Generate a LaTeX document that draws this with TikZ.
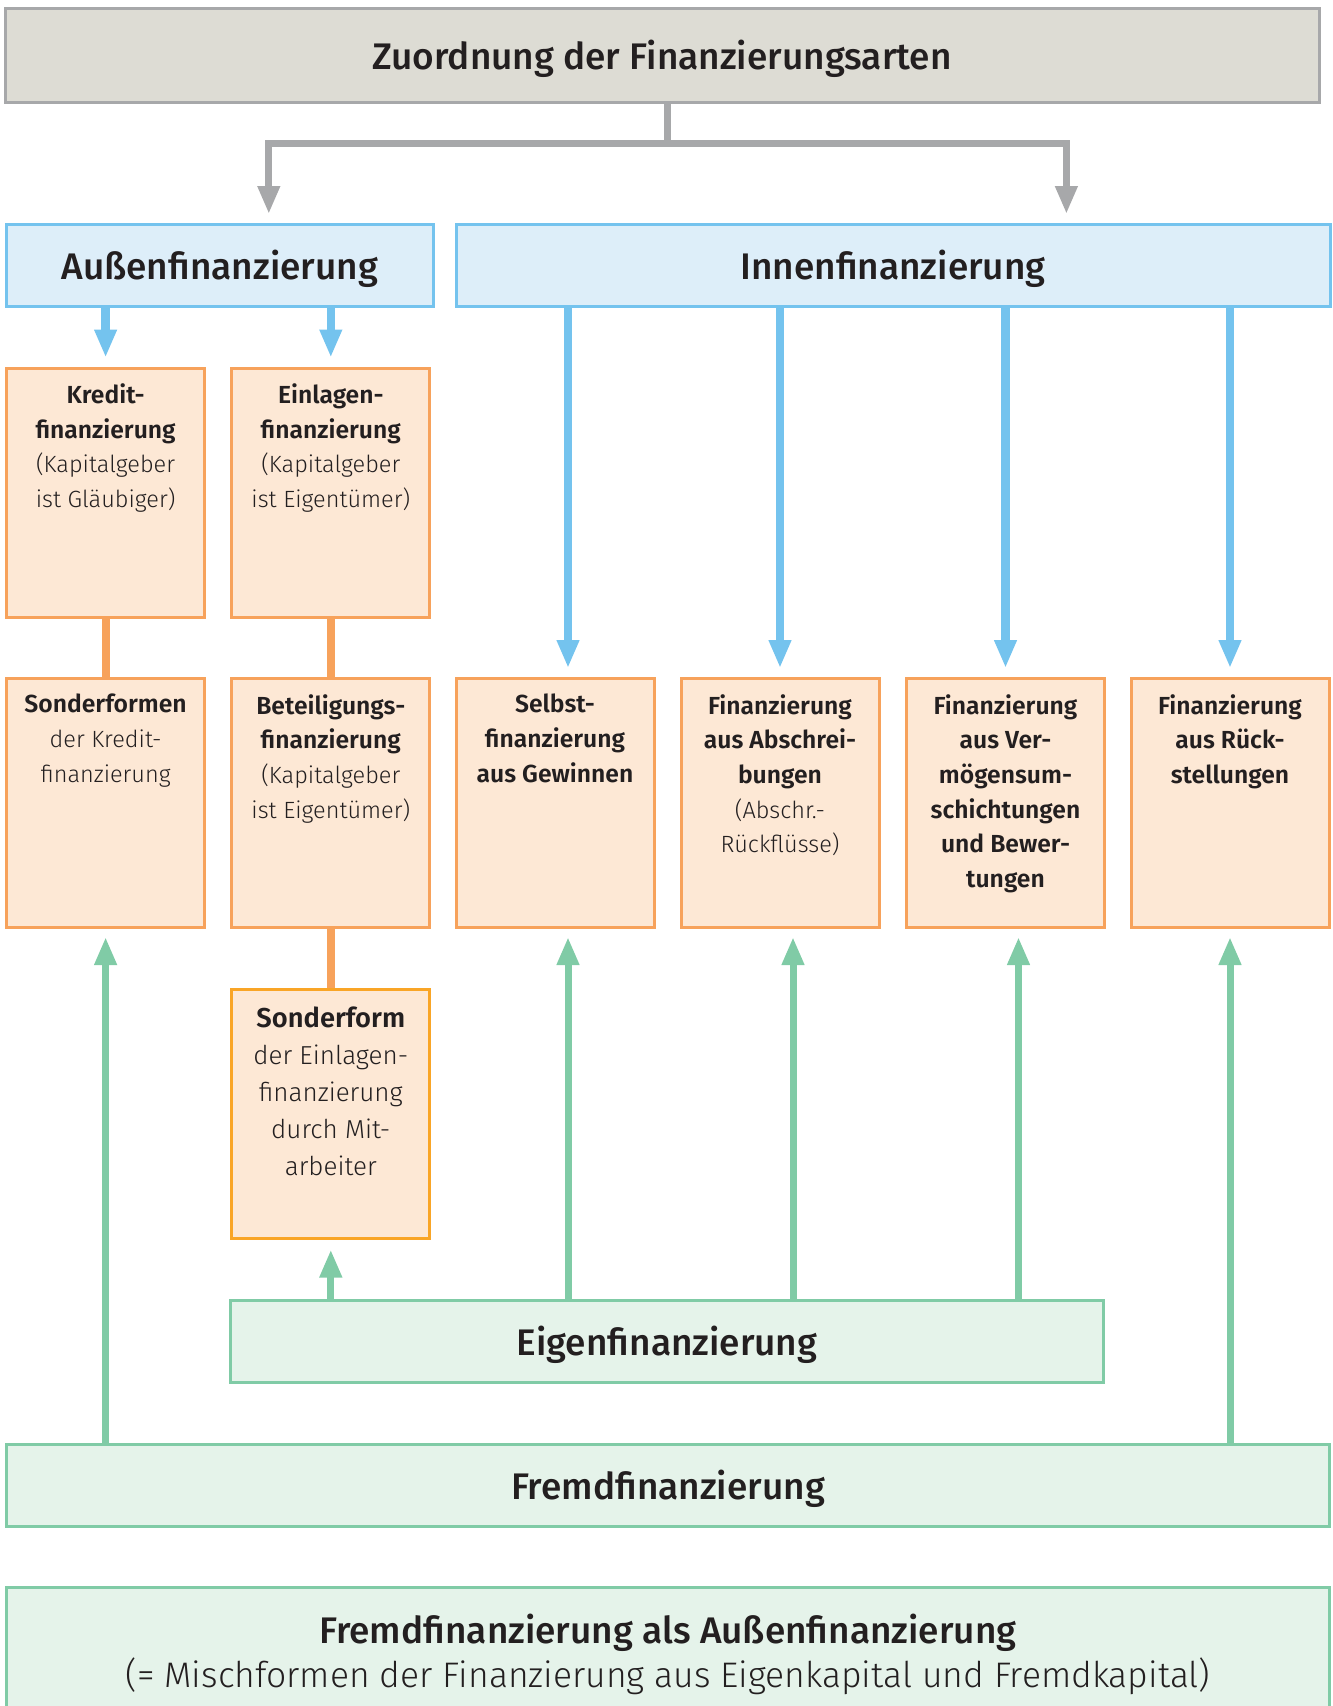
\documentclass[tikz,border=0pt]{standalone}
\usepackage{fontspec}
\setmainfont{Fira Sans}[UprightFont=* Light, BoldFont=* SemiBold, BoldFeatures={Scale=1.05}]
\newfontfamily\medfont{Fira Sans}[UprightFont=* Medium]
\usetikzlibrary{arrows.meta,calc}
\definecolor{titlefill}{HTML}{DDDCD4}
\definecolor{graycol}{HTML}{A7A8AA}
\definecolor{bluefill}{HTML}{DDEEF9}
\definecolor{bluecol}{HTML}{74C3EE}
\definecolor{orfill}{HTML}{FDE8D5}
\definecolor{orcol}{HTML}{F7A25B}
\definecolor{yorcol}{HTML}{F9A526}
\definecolor{grfill}{HTML}{E5F3EA}
\definecolor{grcol}{HTML}{80CBA6}
\definecolor{txt}{HTML}{231F20}
\tikzset{
  boxbase/.style={draw, line width=3pt, inner sep=0pt, text=txt},
  headfont/.style={font=\medfont\fontsize{37}{44}\selectfont, text height=36pt, text depth=7pt},
  titlebox/.style={boxbase, draw=graycol, fill=titlefill, headfont},
  bluebox/.style={boxbase, draw=bluecol, fill=bluefill, headfont},
  obox/.style={boxbase, draw=orcol, fill=orfill, minimum width=198pt, minimum height=249pt},
  greenbox/.style={boxbase, draw=grcol, fill=grfill, headfont},
  btxt/.style={anchor=north, align=center, inner sep=0pt, text=txt, font=\fontsize{23.5}{34.7}\selectfont},
  bigtxt/.style={anchor=north, align=center, inner sep=0pt, text=txt, font=\fontsize{26}{37}\selectfont},
  grayarr/.style={draw=graycol, line width=7pt, {Triangle[width=21pt,length=28pt]}-{Triangle[width=21pt,length=28pt]}},
  grayline/.style={draw=graycol, line width=7pt},
  bluearr/.style={draw=bluecol, line width=8.5pt, -{Triangle[width=21pt,length=28pt]}},
  greenarr/.style={draw=grcol, line width=7pt, -{Triangle[width=21pt,length=28pt]}},
  orline/.style={draw=orcol, line width=8pt},
}
\begin{document}
\begin{tikzpicture}[x=1pt,y=-1pt]
\useasboundingbox (0,0) rectangle (1333,1706);
\clip (0,0) rectangle (1333,1706);
% top
\node[titlebox, minimum width=1314pt, minimum height=94pt] (title) at (662,55) {Zuordnung der Finanzierungsarten};
\node[bluebox, minimum width=426.5pt, minimum height=82pt] (aussen) at (219.8,265) {Außenfinanzierung};
\node[bluebox, minimum width=874pt, minimum height=82pt] (innen) at (893,265) {Innenfinanzierung};
% row 1
\node[obox] (kredit) at (105.6,492.5) {};
\node[obox] (einlagen) at (330.8,492.5) {};
% row 2
\node[obox] (sonderformen) at (105.6,803) {};
\node[obox] (beteiligung) at (330.8,803) {};
\node[obox] (selbst) at (555,803) {};
\node[obox] (abschr) at (780,803) {};
\node[obox] (verm) at (1005.5,803) {};
\node[obox] (rueck) at (1230,803) {};
% row 3
\node[obox, draw=yorcol] (sonderform) at (330.8,1113.5) {};
% green boxes
\node[greenbox, minimum width=873pt, minimum height=82pt] (eigen) at (667,1341) {Eigenfinanzierung};
\node[greenbox, minimum width=1323.5pt, minimum height=82pt] (fremd) at (668,1485) {Fremdfinanzierung};
\node[greenbox, minimum width=1323.5pt, minimum height=180pt] (bottom) at (668,1677) {};
\node[anchor=north, align=center, inner sep=0pt, text=txt, font=\fontsize{35.5}{44}\selectfont] (bottomtext) at (668,1613.5)
  {{\medfont\fontsize{37}{44}\selectfont Fremdfinanzierung als Außenfinanzierung}\\(= Mischformen der Finanzierung aus Eigenkapital und Fremdkapital)};
% texts in boxes
\node[btxt] (t1) at ([yshift=-17pt]kredit.north) {\textbf{Kredit-}\\\textbf{finanzierung}\\(Kapitalgeber\\ist Gläubiger)};
\node[btxt] (t2) at ([yshift=-17pt]einlagen.north) {\textbf{Einlagen-}\\\textbf{finanzierung}\\(Kapitalgeber\\ist Eigentümer)};
\node[btxt] (t3) at ([yshift=-17pt]sonderformen.north) {\textbf{Sonderformen}\\der Kredit-\\finanzierung};
\node[btxt] (t4) at ([yshift=-17pt]beteiligung.north) {\textbf{Beteiligungs-}\\\textbf{finanzierung}\\(Kapitalgeber\\ist Eigentümer)};
\node[btxt] (t5) at ([yshift=-17pt]selbst.north) {\textbf{Selbst-}\\\textbf{finanzierung}\\\textbf{aus Gewinnen}};
\node[btxt] (t6) at ([yshift=-17pt]abschr.north) {\textbf{Finanzierung}\\\textbf{aus Abschrei-}\\\textbf{bungen}\\(Abschr.-\\Rückflüsse)};
\node[btxt] (t7) at ([yshift=-17pt]verm.north) {\textbf{Finanzierung}\\\textbf{aus Ver-}\\\textbf{mögensum-}\\\textbf{schichtungen}\\\textbf{und Bewer-}\\\textbf{tungen}};
\node[btxt] (t8) at ([yshift=-17pt]rueck.north) {\textbf{Finanzierung}\\\textbf{aus Rück-}\\\textbf{stellungen}};
\node[bigtxt] (t9) at ([yshift=-19pt]sonderform.north) {\textbf{Sonderform}\\der Einlagen-\\finanzierung\\durch Mit-\\arbeiter};
% gray connectors
\coordinate (split) at (667,143.6);
\coordinate (ga) at (268.8,214);
\coordinate (gi) at (1066.4,214);
\draw[grayline] (title.south -| split) -- (split);
\draw[grayarr] (ga) -- (ga |- split) -- (gi |- split) -- (gi);
% blue arrows
\draw[bluearr, shorten >=9pt] (aussen.south -| kredit.north) -- (kredit.north);
\draw[bluearr, shorten >=9pt] (aussen.south -| einlagen.north) -- (einlagen.north);
\draw[bluearr, shorten >=9pt] ([xshift=13pt]selbst.north |- innen.south) -- ([xshift=13pt]selbst.north);
\draw[bluearr, shorten >=9pt] (innen.south -| abschr.north) -- (abschr.north);
\draw[bluearr, shorten >=9pt] (innen.south -| verm.north) -- (verm.north);
\draw[bluearr, shorten >=9pt] (innen.south -| rueck.north) -- (rueck.north);
% orange connectors
\draw[orline] (kredit.south) -- (sonderformen.north);
\draw[orline] (einlagen.south) -- (beteiligung.north);
\draw[orline] (beteiligung.south) -- (sonderform.north);
% green arrows
\draw[greenarr, shorten >=8pt] (fremd.north -| sonderformen.south) -- (sonderformen.south);
\draw[greenarr, shorten >=8pt] (fremd.north -| rueck.south) -- (rueck.south);
\draw[greenarr, shorten >=10pt] (eigen.north -| sonderform.south) -- (sonderform.south);
\draw[greenarr, shorten >=8pt] ([xshift=13pt]selbst.south |- eigen.north) -- ([xshift=13pt]selbst.south);
\draw[greenarr, shorten >=8pt] ([xshift=13pt]abschr.south |- eigen.north) -- ([xshift=13pt]abschr.south);
\draw[greenarr, shorten >=8pt] ([xshift=13pt]verm.south |- eigen.north) -- ([xshift=13pt]verm.south);
\end{tikzpicture}
\end{document}
